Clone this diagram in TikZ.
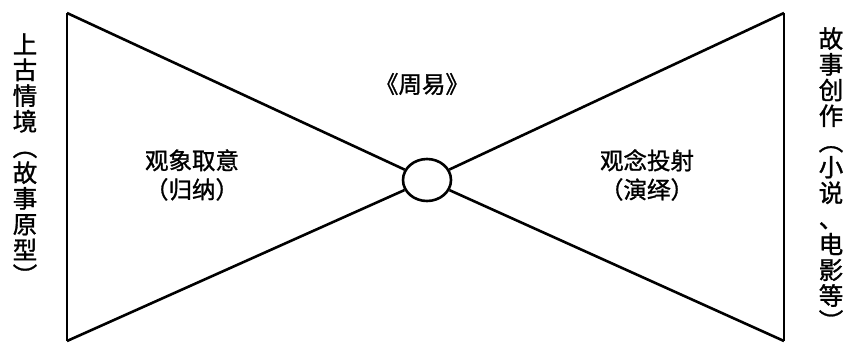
\documentclass[tikz,border=0pt]{standalone}
\usepackage{fontspec}
\usepackage{graphicx}
\setmainfont{Noto Sans CJK SC}[BoldFont={Noto Sans CJK SC},BoldFeatures={FakeBold=1.2}]
\usepackage{tikz}
\usetikzlibrary{shapes.geometric}
\newcommand{\vop}{\rotatebox[origin=c]{-90}{（}}
\newcommand{\vcl}{\rotatebox[origin=c]{-90}{）}}

\begin{document}
\begin{tikzpicture}[x=1pt,y=-1pt,line width=2.6pt,
  vtext/.style={align=center,inner sep=0pt,anchor=north,font=\bfseries\fontsize{24.5}{25.7}\selectfont},
  lbl/.style={align=center,inner sep=0pt,font=\bfseries\fontsize{23.5}{29}\selectfont},
  hub/.style={draw,ellipse,minimum width=48pt,minimum height=42pt,inner sep=0pt}]
\useasboundingbox (0,0) rectangle (845,343);
% ---- RAMA ----
\coordinate (tl) at (67,13);
\coordinate (bl) at (67,341);
\coordinate (tr) at (784,13);
\coordinate (br) at (784,341);
\node[hub] (zhouyi) at (427,180) {};
\draw (tl) -- (bl); \draw (tr) -- (br);
\draw (tl) -- (zhouyi); \draw (bl) -- (zhouyi);
\draw (tr) -- (zhouyi); \draw (br) -- (zhouyi);
% ---- TEKSTY ----
\node[vtext] (src) at (25,32) {上\\古\\情\\境\\\vop\\故\\事\\原\\型\\\vcl};
\node[vtext] (dst) at (831,26) {故\\事\\创\\作\\\vop\\小\\说\\、\\电\\影\\等\\\vcl};
\node[lbl] (ind) at (192,175) {观象取意\\（归纳）};
\node[lbl] (ded) at (647,175) {观念投射\\（演绎）};
\node[lbl] (title) at (422,84) {《周易》};
\end{tikzpicture}
\end{document}
